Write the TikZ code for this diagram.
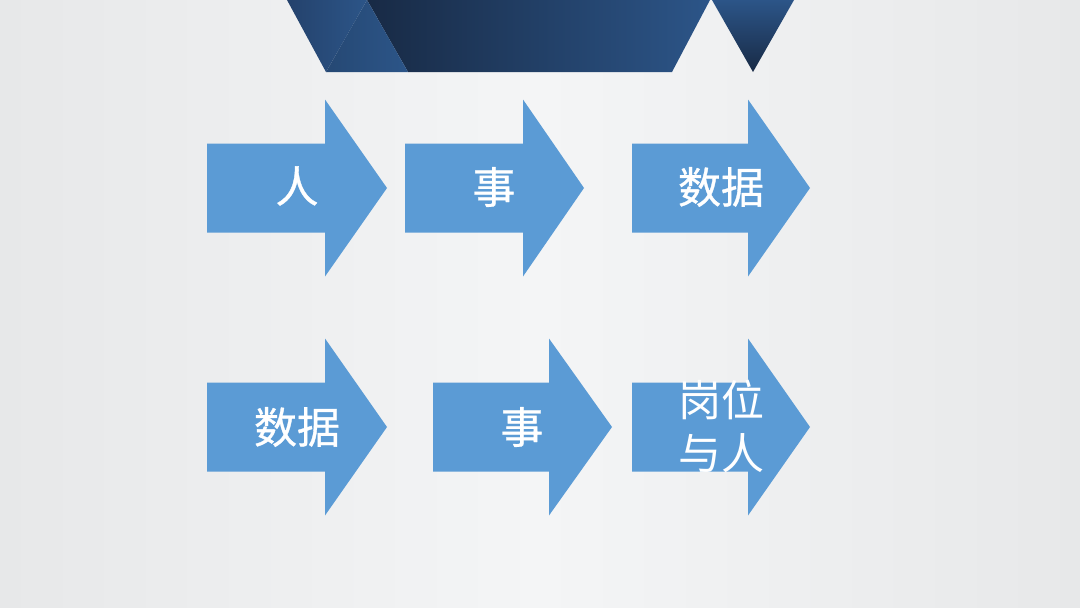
\documentclass[tikz,border=0pt]{standalone}
\usepackage{fontspec}
\newfontfamily\cjk{Noto Sans CJK SC}
\newfontfamily\cjkbold[FakeBold=0.8]{Noto Sans CJK SC}
\definecolor{bgedge}{HTML}{E7E8E9}
\definecolor{bgmid}{HTML}{F4F5F6}
\definecolor{arrowblue}{HTML}{5B9BD5}
\definecolor{navydark}{HTML}{182A45}
\definecolor{navymid}{HTML}{24426C}
\definecolor{navylight}{HTML}{2C5588}
\tikzset{
  bigarrow/.style={fill=arrowblue, draw=none},
  lbl/.style={text=white, font=\cjkbold\fontsize{43}{53}\selectfont, inner sep=0pt, align=center},
  lbllight/.style={text=white, font=\cjk\fontsize{43}{53}\selectfont, inner sep=0pt, align=center}
}
\newcommand{\arrowshape}[5]{% x0, xneck, xtip, ycenter, name
  \fill[bigarrow] (#1,#4-44.5) -- (#2,#4-44.5) -- (#2,#4-88.5) -- (#3,#4)
     -- (#2,#4+88.5) -- (#2,#4+44.5) -- (#1,#4+44.5) -- cycle;
}
\begin{document}
\begin{tikzpicture}[x=1pt,y=-1pt]
\useasboundingbox (0,0) rectangle (1080,608);
% background
\shade[left color=bgedge, right color=bgedge, middle color=bgmid] (0,0) rectangle (1080,608);
% banner
\shade[left color=navydark, right color=navylight] (367,0) -- (408,72) -- (672,72) -- (710,0) -- cycle;
\shade[left color=navymid, right color=navylight] (287,0) -- (367,0) -- (326,72) -- cycle;
\shade[left color=navylight!85!black, right color=navylight] (367,0) -- (326,72) -- (408,72) -- cycle;
\shade[top color=navylight, bottom color=navydark] (712,0) -- (794,0) -- (753,72) -- cycle;
% arrows row 1
\arrowshape{207}{325}{387}{188}{a1}
\arrowshape{405}{523}{584}{188}{a2}
\arrowshape{632}{748}{810}{188}{a3}
% arrows row 2
\arrowshape{207}{325}{387}{427}{a4}
\arrowshape{433}{549}{612}{427}{a5}
\arrowshape{632}{748}{810}{427}{a6}
% labels
\node[lbl] (t1) at (297,186) {人};
\node[lbl] (t2) at (494,187) {事};
\node[lbl] (t3) at (721,187) {数据};
\node[lbl] (t4) at (297,427) {数据};
\node[lbl] (t5) at (522,427) {事};
\node[lbllight] (t6) at (721,426) {岗位\\与人};
\end{tikzpicture}
\end{document}
